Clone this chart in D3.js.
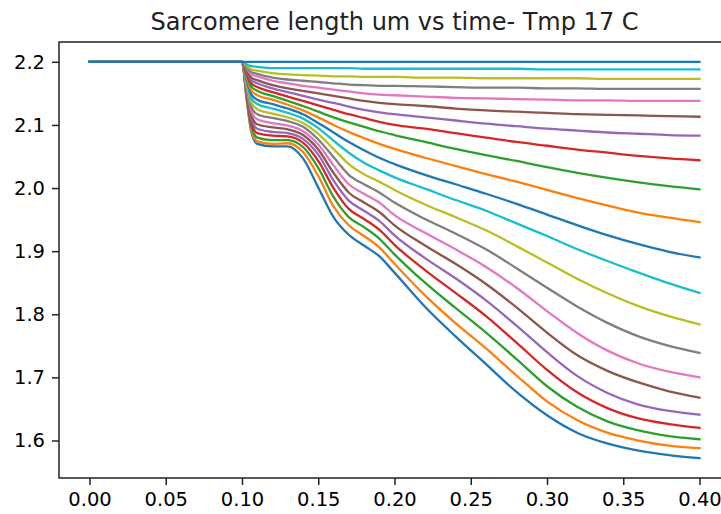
<!DOCTYPE html>
<html>
<head>
<meta charset="utf-8">
<script src="https://cdn.jsdelivr.net/npm/d3@7"></script>
<style>
	body { margin: 0; background: #fff; }
	text { font-family: "DejaVu Sans", sans-serif; fill: #000; }
</style>
</head>
<body>
<script>
//time samples (s) shared by every run
const time = [0, 0.1, 0.103, 0.106, 0.11, 0.12, 0.13, 0.14, 0.15, 0.16, 0.17, 0.18, 0.19, 0.20, 0.22, 0.24, 0.26, 0.28, 0.30, 0.32, 0.34, 0.36, 0.38, 0.40];

//sarcomere length (um), one array per run
const run00 = [2.2, 2.2, 2.142, 2.090, 2.070, 2.066, 2.066, 2.047, 2.001, 1.954, 1.926, 1.909, 1.892, 1.866, 1.812, 1.765, 1.721, 1.677, 1.640, 1.612, 1.595, 1.584, 1.577, 1.572];
const run01 = [2.2, 2.2, 2.143, 2.093, 2.074, 2.070, 2.071, 2.057, 2.019, 1.971, 1.941, 1.924, 1.906, 1.880, 1.830, 1.786, 1.746, 1.703, 1.662, 1.632, 1.612, 1.600, 1.592, 1.588];
const run02 = [2.2, 2.2, 2.146, 2.098, 2.080, 2.076, 2.076, 2.065, 2.032, 1.986, 1.954, 1.938, 1.920, 1.895, 1.850, 1.810, 1.771, 1.729, 1.686, 1.653, 1.630, 1.616, 1.607, 1.602];
const run03 = [2.2, 2.2, 2.149, 2.104, 2.087, 2.083, 2.082, 2.072, 2.043, 2.000, 1.967, 1.951, 1.934, 1.910, 1.870, 1.834, 1.797, 1.755, 1.712, 1.676, 1.651, 1.635, 1.626, 1.620];
const run04 = [2.2, 2.2, 2.152, 2.110, 2.094, 2.089, 2.087, 2.078, 2.053, 2.012, 1.980, 1.964, 1.948, 1.925, 1.889, 1.857, 1.822, 1.782, 1.740, 1.702, 1.675, 1.657, 1.647, 1.641];
const run05 = [2.2, 2.2, 2.155, 2.116, 2.101, 2.096, 2.093, 2.084, 2.061, 2.024, 1.993, 1.977, 1.962, 1.941, 1.909, 1.880, 1.848, 1.811, 1.771, 1.735, 1.710, 1.692, 1.678, 1.668];
const run06 = [2.2, 2.2, 2.159, 2.123, 2.109, 2.103, 2.099, 2.090, 2.069, 2.036, 2.006, 1.991, 1.977, 1.957, 1.929, 1.903, 1.875, 1.842, 1.805, 1.770, 1.742, 1.722, 1.709, 1.700];
const run07 = [2.2, 2.2, 2.163, 2.129, 2.117, 2.111, 2.106, 2.097, 2.077, 2.049, 2.021, 2.006, 1.993, 1.977, 1.951, 1.928, 1.903, 1.873, 1.842, 1.812, 1.786, 1.765, 1.750, 1.739];
const run08 = [2.2, 2.2, 2.166, 2.136, 2.125, 2.118, 2.112, 2.103, 2.086, 2.062, 2.038, 2.022, 2.010, 1.997, 1.974, 1.954, 1.933, 1.908, 1.882, 1.856, 1.833, 1.813, 1.797, 1.784];
const run09 = [2.2, 2.2, 2.170, 2.143, 2.133, 2.126, 2.119, 2.110, 2.095, 2.075, 2.056, 2.040, 2.028, 2.017, 1.999, 1.981, 1.964, 1.944, 1.924, 1.903, 1.884, 1.866, 1.849, 1.834];
const run10 = [2.2, 2.2, 2.173, 2.149, 2.140, 2.133, 2.126, 2.117, 2.103, 2.088, 2.073, 2.060, 2.048, 2.038, 2.021, 2.006, 1.991, 1.975, 1.958, 1.941, 1.925, 1.911, 1.899, 1.890];
const run11 = [2.2, 2.2, 2.176, 2.155, 2.147, 2.140, 2.132, 2.123, 2.112, 2.100, 2.089, 2.079, 2.070, 2.062, 2.048, 2.035, 2.022, 2.010, 1.997, 1.984, 1.972, 1.961, 1.953, 1.946];
const run12 = [2.2, 2.2, 2.179, 2.161, 2.154, 2.146, 2.138, 2.130, 2.121, 2.112, 2.104, 2.097, 2.090, 2.084, 2.073, 2.062, 2.052, 2.043, 2.033, 2.024, 2.016, 2.009, 2.003, 1.998];
const run13 = [2.2, 2.2, 2.182, 2.166, 2.160, 2.152, 2.145, 2.138, 2.131, 2.124, 2.117, 2.111, 2.105, 2.100, 2.094, 2.087, 2.080, 2.073, 2.067, 2.061, 2.056, 2.051, 2.047, 2.044];
const run14 = [2.2, 2.2, 2.185, 2.171, 2.166, 2.158, 2.152, 2.146, 2.140, 2.135, 2.129, 2.124, 2.120, 2.117, 2.112, 2.107, 2.102, 2.098, 2.094, 2.091, 2.088, 2.086, 2.084, 2.083];
const run15 = [2.2, 2.2, 2.187, 2.175, 2.171, 2.163, 2.158, 2.154, 2.150, 2.146, 2.142, 2.138, 2.135, 2.133, 2.130, 2.126, 2.123, 2.121, 2.119, 2.117, 2.116, 2.115, 2.114, 2.113];
const run16 = [2.2, 2.2, 2.190, 2.180, 2.177, 2.170, 2.166, 2.162, 2.159, 2.156, 2.153, 2.150, 2.148, 2.147, 2.145, 2.143, 2.142, 2.141, 2.140, 2.139, 2.139, 2.138, 2.138, 2.138];
const run17 = [2.2, 2.2, 2.191, 2.184, 2.181, 2.175, 2.172, 2.170, 2.168, 2.166, 2.164, 2.163, 2.162, 2.162, 2.161, 2.160, 2.159, 2.159, 2.158, 2.158, 2.157, 2.157, 2.157, 2.157];
const run18 = [2.2, 2.2, 2.194, 2.188, 2.186, 2.182, 2.180, 2.179, 2.178, 2.177, 2.177, 2.176, 2.176, 2.176, 2.175, 2.175, 2.174, 2.174, 2.174, 2.174, 2.173, 2.173, 2.173, 2.173];
const run19 = [2.2, 2.2, 2.196, 2.193, 2.192, 2.190, 2.190, 2.190, 2.190, 2.190, 2.190, 2.189, 2.189, 2.189, 2.189, 2.189, 2.189, 2.189, 2.188, 2.188, 2.188, 2.188, 2.188, 2.188];
const run20 = [2.2, 2.2, 2.2, 2.2, 2.2, 2.2, 2.2, 2.2, 2.2, 2.2, 2.2, 2.2, 2.2, 2.2, 2.2, 2.2, 2.2, 2.2, 2.2, 2.2, 2.2, 2.2, 2.2, 2.2];

const runs = [run00, run01, run02, run03, run04, run05, run06, run07, run08, run09, run10,
	run11, run12, run13, run14, run15, run16, run17, run18, run19, run20];

//tick values
const xTicks = [0, 0.05, 0.10, 0.15, 0.20, 0.25, 0.30, 0.35, 0.40];
const yTicks = [1.6, 1.7, 1.8, 1.9, 2.0, 2.1, 2.2];

const title = 'Sarcomere length um vs time- Tmp 17 C';

const width = 721;
const height = 514;
//axes box (right edge runs past the window, as in the picture)
const box = { left: 59, right: 730, top: 42, bottom: 478 };

const svg = d3.select('body')
	.append('svg')
	.attr('width', width)
	.attr('height', height);

//5% margins on both axes, like matplotlib
const xExt = d3.extent(time);
const xPad = (xExt[1] - xExt[0]) * 0.05;
const x = d3.scaleLinear()
	.domain([xExt[0] - xPad, xExt[1] + xPad])
	.range([box.left, box.right]);

const yExt = d3.extent(runs.flat());
const yPad = (yExt[1] - yExt[0]) * 0.05;
const y = d3.scaleLinear()
	.domain([yExt[0] - yPad, yExt[1] + yPad])
	.range([box.bottom, box.top]);

const color = d3.scaleOrdinal(d3.schemeCategory10);

const line = d3.line()
	.x((d, i) => x(time[i]))
	.y((d) => y(d))
	.curve(d3.curveMonotoneX);

svg.append('g')
	.selectAll('path')
	.data(runs)
	.enter()
	.append('path')
	.attr('d', (d) => line(d))
	.attr('fill', 'none')
	.attr('stroke', (d, i) => color(i % 10))
	.attr('stroke-width', 2.3)
	.attr('stroke-linejoin', 'round')
	.attr('stroke-linecap', 'square');

//axes
const xAxis = svg.append('g')
	.attr('transform', `translate(0,${box.bottom})`)
	.call(d3.axisBottom(x).tickValues(xTicks).tickFormat(d3.format('.2f')).tickSize(7).tickPadding(7));

const yAxis = svg.append('g')
	.attr('transform', `translate(${box.left},0)`)
	.call(d3.axisLeft(y).tickValues(yTicks).tickFormat(d3.format('.1f')).tickSize(7).tickPadding(7));

[xAxis, yAxis].forEach((g) => {
	g.select('.domain').remove();
	g.selectAll('line').attr('stroke', '#222').attr('stroke-width', 1.5);
	g.selectAll('text')
		.style('font-family', '"DejaVu Sans", sans-serif')
		.style('font-size', '19.5px')
		.attr('fill', '#222');
});

//frame
svg.append('rect')
	.attr('x', box.left)
	.attr('y', box.top)
	.attr('width', box.right - box.left)
	.attr('height', box.bottom - box.top)
	.attr('fill', 'none')
	.attr('stroke', '#222')
	.attr('stroke-width', 1.5);

svg.append('text')
	.attr('x', (box.left + box.right) / 2)
	.attr('y', 30)
	.attr('text-anchor', 'middle')
	.style('font-size', '24px')
	.style('fill', '#222')
	.text(title);
</script>
</body>
</html>
